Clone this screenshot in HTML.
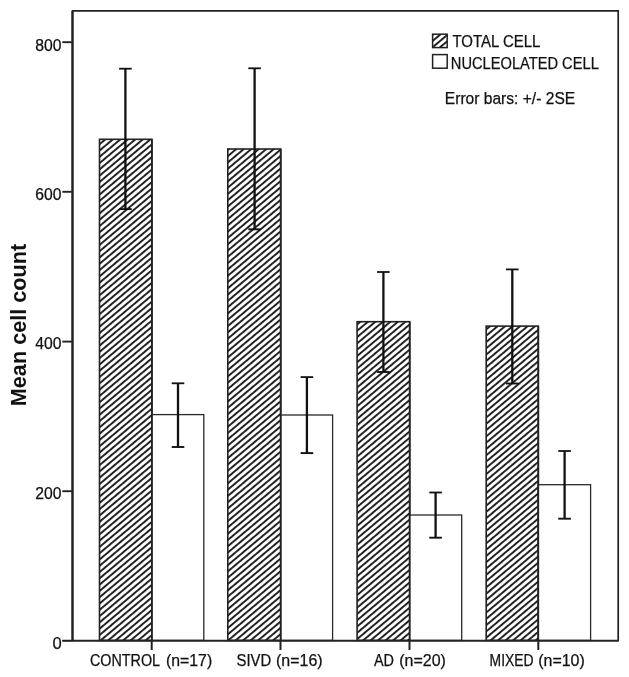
<!DOCTYPE html>
<html><head><meta charset="utf-8"><title>Mean cell count</title>
<style>html,body{margin:0;padding:0;background:#fff}svg{display:block}text{font-family:"Liberation Sans",sans-serif;fill:#111}</style></head><body>
<svg width="629" height="677" viewBox="0 0 629 677">
<rect width="629" height="677" fill="#fff"/>
<defs><pattern id="h" width="20" height="4.82" patternUnits="userSpaceOnUse" patternTransform="rotate(-40)"><rect width="20" height="4.82" fill="#fff"/><rect y="0" width="20" height="1.95" fill="#222"/></pattern></defs>
<rect x="99.5" y="139.3" width="52.4" height="501.1" fill="url(#h)" stroke="#222" stroke-width="1.6"/>
<rect x="227.8" y="149.0" width="52.9" height="491.4" fill="url(#h)" stroke="#222" stroke-width="1.6"/>
<rect x="357.1" y="321.7" width="52.6" height="318.7" fill="url(#h)" stroke="#222" stroke-width="1.6"/>
<rect x="486.2" y="326.1" width="52.1" height="314.3" fill="url(#h)" stroke="#222" stroke-width="1.6"/>
<rect x="151.9" y="414.6" width="51.9" height="225.8" fill="#fff" stroke="#2a2a2a" stroke-width="1.3"/>
<rect x="280.8" y="415.0" width="51.8" height="225.4" fill="#fff" stroke="#2a2a2a" stroke-width="1.3"/>
<rect x="409.6" y="515.0" width="52.1" height="125.4" fill="#fff" stroke="#2a2a2a" stroke-width="1.3"/>
<rect x="538.3" y="484.7" width="52.3" height="155.7" fill="#fff" stroke="#2a2a2a" stroke-width="1.3"/>
<line x1="151.9" y1="139.3" x2="151.9" y2="640.7" stroke="#222" stroke-width="1.7"/>
<line x1="280.7" y1="149.0" x2="280.7" y2="640.7" stroke="#222" stroke-width="1.7"/>
<line x1="409.7" y1="321.7" x2="409.7" y2="640.7" stroke="#222" stroke-width="1.7"/>
<line x1="538.3" y1="326.1" x2="538.3" y2="640.7" stroke="#222" stroke-width="1.7"/>
<path d="M72.5 10.9H618.2V640.7H72.5Z" fill="none" stroke="#222" stroke-width="1.7"/>
<line x1="72.5" y1="10.9" x2="72.5" y2="640.7" stroke="#222" stroke-width="2.2"/>
<line x1="62.3" y1="640.7" x2="618.2" y2="640.7" stroke="#222" stroke-width="1.6"/>
<line x1="62.3" y1="42.2" x2="72.5" y2="42.2" stroke="#222" stroke-width="1.9"/>
<line x1="62.3" y1="191.8" x2="72.5" y2="191.8" stroke="#222" stroke-width="1.9"/>
<line x1="62.3" y1="341.6" x2="72.5" y2="341.6" stroke="#222" stroke-width="1.9"/>
<line x1="62.3" y1="491.2" x2="72.5" y2="491.2" stroke="#222" stroke-width="1.9"/>
<line x1="62.3" y1="640.7" x2="72.5" y2="640.7" stroke="#222" stroke-width="1.9"/>
<line x1="151.7" y1="640.7" x2="151.7" y2="650" stroke="#222" stroke-width="2"/>
<line x1="280.5" y1="640.7" x2="280.5" y2="650" stroke="#222" stroke-width="2"/>
<line x1="409.5" y1="640.7" x2="409.5" y2="650" stroke="#222" stroke-width="2"/>
<line x1="538.3" y1="640.7" x2="538.3" y2="650" stroke="#222" stroke-width="2"/>
<line x1="125.4" y1="68.7" x2="125.4" y2="209.1" stroke="#111" stroke-width="2.3"/>
<line x1="119.1" y1="68.7" x2="131.7" y2="68.7" stroke="#111" stroke-width="1.8"/>
<line x1="119.1" y1="209.1" x2="131.7" y2="209.1" stroke="#111" stroke-width="1.9"/>
<line x1="254.6" y1="68.3" x2="254.6" y2="229.3" stroke="#111" stroke-width="2.3"/>
<line x1="248.3" y1="68.3" x2="260.9" y2="68.3" stroke="#111" stroke-width="1.8"/>
<line x1="248.3" y1="229.3" x2="260.9" y2="229.3" stroke="#111" stroke-width="1.9"/>
<line x1="383.4" y1="272.0" x2="383.4" y2="372.0" stroke="#111" stroke-width="2.3"/>
<line x1="377.1" y1="272.0" x2="389.7" y2="272.0" stroke="#111" stroke-width="1.8"/>
<line x1="377.1" y1="372.0" x2="389.7" y2="372.0" stroke="#111" stroke-width="1.9"/>
<line x1="512.3" y1="269.4" x2="512.3" y2="383.5" stroke="#111" stroke-width="2.3"/>
<line x1="506.0" y1="269.4" x2="518.6" y2="269.4" stroke="#111" stroke-width="1.8"/>
<line x1="506.0" y1="383.5" x2="518.6" y2="383.5" stroke="#111" stroke-width="1.9"/>
<line x1="178.0" y1="383.3" x2="178.0" y2="447.0" stroke="#111" stroke-width="2.3"/>
<line x1="171.7" y1="383.3" x2="184.3" y2="383.3" stroke="#111" stroke-width="1.8"/>
<line x1="171.7" y1="447.0" x2="184.3" y2="447.0" stroke="#111" stroke-width="1.9"/>
<line x1="306.9" y1="377.1" x2="306.9" y2="453.1" stroke="#111" stroke-width="2.3"/>
<line x1="300.6" y1="377.1" x2="313.2" y2="377.1" stroke="#111" stroke-width="1.8"/>
<line x1="300.6" y1="453.1" x2="313.2" y2="453.1" stroke="#111" stroke-width="1.9"/>
<line x1="435.6" y1="492.5" x2="435.6" y2="537.7" stroke="#111" stroke-width="2.3"/>
<line x1="429.3" y1="492.5" x2="441.9" y2="492.5" stroke="#111" stroke-width="1.8"/>
<line x1="429.3" y1="537.7" x2="441.9" y2="537.7" stroke="#111" stroke-width="1.9"/>
<line x1="564.6" y1="451.0" x2="564.6" y2="518.7" stroke="#111" stroke-width="2.3"/>
<line x1="558.3" y1="451.0" x2="570.9" y2="451.0" stroke="#111" stroke-width="1.8"/>
<line x1="558.3" y1="518.7" x2="570.9" y2="518.7" stroke="#111" stroke-width="1.9"/>
<rect x="432.6" y="34.2" width="14.6" height="13.4" fill="url(#h)" stroke="#222" stroke-width="1.5"/>
<rect x="432.6" y="54.6" width="14.6" height="13.6" fill="#fff" stroke="#222" stroke-width="1.5"/>
<text x="35.2" y="50.5" font-size="16" textLength="26.2" lengthAdjust="spacingAndGlyphs" stroke="#111" stroke-width="0.25">800</text>
<text x="35.2" y="199.5" font-size="16" textLength="26.2" lengthAdjust="spacingAndGlyphs" stroke="#111" stroke-width="0.25">600</text>
<text x="35.2" y="348.9" font-size="16" textLength="26.2" lengthAdjust="spacingAndGlyphs" stroke="#111" stroke-width="0.25">400</text>
<text x="35.2" y="499.4" font-size="16" textLength="26.2" lengthAdjust="spacingAndGlyphs" stroke="#111" stroke-width="0.25">200</text>
<text x="52.5" y="648.6" font-size="16" textLength="9.2" lengthAdjust="spacingAndGlyphs" stroke="#111" stroke-width="0.25">0</text>
<text x="452.4" y="47.0" font-size="16.2" textLength="88.0" lengthAdjust="spacingAndGlyphs" stroke="#111" stroke-width="0.25">TOTAL CELL</text>
<text x="450.8" y="68.6" font-size="16.2" textLength="148.0" lengthAdjust="spacingAndGlyphs" stroke="#111" stroke-width="0.25">NUCLEOLATED CELL</text>
<text x="444.8" y="104.3" font-size="16.3" textLength="130.4" lengthAdjust="spacingAndGlyphs" stroke="#111" stroke-width="0.25">Error bars: +/- 2SE</text>
<text y="665.6" font-size="16" stroke="#111" stroke-width="0.25"><tspan x="90.0" textLength="69.5" lengthAdjust="spacingAndGlyphs">CONTROL</tspan> <tspan x="166.0" textLength="46.2" lengthAdjust="spacingAndGlyphs">(n=17)</tspan></text>
<text y="665.6" font-size="16" stroke="#111" stroke-width="0.25"><tspan x="236.6" textLength="34.6" lengthAdjust="spacingAndGlyphs">SIVD</tspan> <tspan x="276.0" textLength="46.6" lengthAdjust="spacingAndGlyphs">(n=16)</tspan></text>
<text y="665.6" font-size="16" stroke="#111" stroke-width="0.25"><tspan x="374.0" textLength="20.0" lengthAdjust="spacingAndGlyphs">AD</tspan> <tspan x="399.3" textLength="46.6" lengthAdjust="spacingAndGlyphs">(n=20)</tspan></text>
<text y="665.6" font-size="16" stroke="#111" stroke-width="0.25"><tspan x="489.6" textLength="44.0" lengthAdjust="spacingAndGlyphs">MIXED</tspan> <tspan x="538.2" textLength="46.6" lengthAdjust="spacingAndGlyphs">(n=10)</tspan></text>
<text transform="translate(26.4 406.2) rotate(-90)" font-size="22.5" font-weight="bold" textLength="162.4" lengthAdjust="spacingAndGlyphs" fill="#000">Mean cell count</text>
</svg></body></html>
